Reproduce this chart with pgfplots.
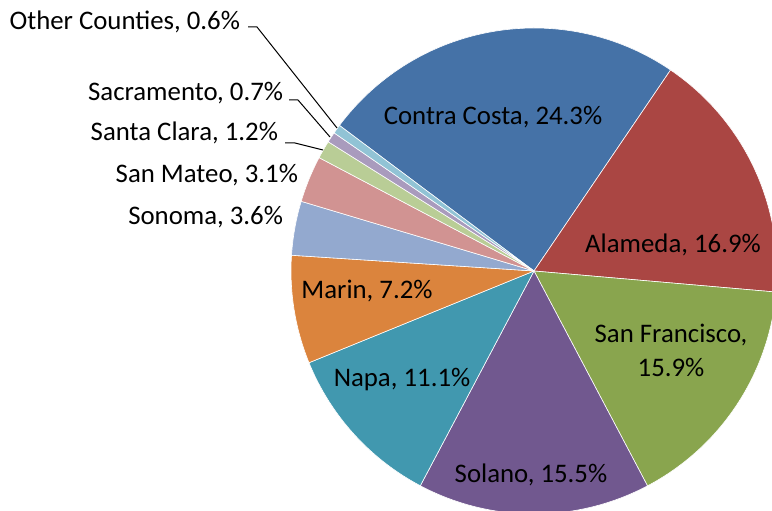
\documentclass[border=0pt]{standalone}
\usepackage{fontspec}
\setmainfont{Carlito}
\usepackage{pgfplots}
\usepackage{pgfplotstable}
\pgfplotsset{compat=1.18}

% Excel 2007 pie palette, one colour per slice
\definecolor{pie0}{HTML}{4572A7}
\definecolor{pie1}{HTML}{AA4643}
\definecolor{pie2}{HTML}{89A54E}
\definecolor{pie3}{HTML}{71588F}
\definecolor{pie4}{HTML}{4198AF}
\definecolor{pie5}{HTML}{DB843D}
\definecolor{pie6}{HTML}{93A9CF}
\definecolor{pie7}{HTML}{D19392}
\definecolor{pie8}{HTML}{B9CD96}
\definecolor{pie9}{HTML}{A99BBD}
\definecolor{pie10}{HTML}{91C3D5}

\pgfplotstableread{
county share
{Contra Costa} 24.3
Alameda 16.9
{San Francisco} 15.9
Solano 15.5
Napa 11.1
Marin 7.2
Sonoma 3.6
{San Mateo} 3.1
{Santa Clara} 1.2
Sacramento 0.7
{Other Counties} 0.6
}\piedata

\tikzset{lbl/.style={inner sep=0pt,outer sep=0pt}}

\begin{document}
\begin{tikzpicture}
\useasboundingbox (0,0) rectangle (386bp,255.5bp);
\begin{axis}[
  at={(0,0)},anchor=south west,scale only axis,
  width=386bp,height=255.5bp,
  xmin=0,xmax=772,ymin=0,ymax=511,
  hide axis,clip=true,
  font=\fontsize{13.45}{17}\selectfont]
% slices, clockwise from 143.2 deg
\pgfmathsetmacro\angA{143.2}
\pgfplotsforeachungrouped \i in {0,...,10}{%
  \pgfplotstablegetelem{\i}{share}\of\piedata
  \pgfmathsetmacro\angB{\angA-360*\pgfplotsretval/100.1}%
  \edef\cmd{\noexpand\fill[pie\i,draw=white,line width=0.3bp]
    (axis cs:534,240) -- ++(\angA:121.5bp)
    arc[start angle=\angA,end angle=\angB,radius=121.5bp] -- cycle;}%
  \cmd
  \global\let\angA\angB
}
% labels inside
\node[lbl] at (axis cs:493,394) {Contra Costa, 24.3\%};
\node[lbl] at (axis cs:673,266) {Alameda, 16.9\%};
\node[lbl,align=center] at (axis cs:671,161) {San Francisco,\\15.9\%};
\node[lbl] at (axis cs:531,36) {Solano, 15.5\%};
\node[lbl] at (axis cs:402,131) {Napa, 11.1\%};
\node[lbl] at (axis cs:367,220) {Marin, 7.2\%};
% labels outside
\node[lbl,anchor=east] at (axis cs:283,294) {Sonoma, 3.6\%};
\node[lbl,anchor=east] at (axis cs:298,336) {San Mateo, 3.1\%};
\node[lbl,anchor=east] at (axis cs:278,378) {Santa Clara, 1.2\%};
\node[lbl,anchor=east] at (axis cs:283,418) {Sacramento, 0.7\%};
\node[lbl,anchor=east] at (axis cs:240,489) {Other Counties, 0.6\%};
% leader lines
\draw[black,line width=0.5bp] (axis cs:248,484) -- (axis cs:257,484) -- (axis cs:337,383);
\draw[black,line width=0.5bp] (axis cs:289,411) -- (axis cs:298,411) -- (axis cs:330,374);
\draw[black,line width=0.5bp] (axis cs:285,368) -- (axis cs:295,368) -- (axis cs:323,361);
\end{axis}
\end{tikzpicture}
\end{document}
